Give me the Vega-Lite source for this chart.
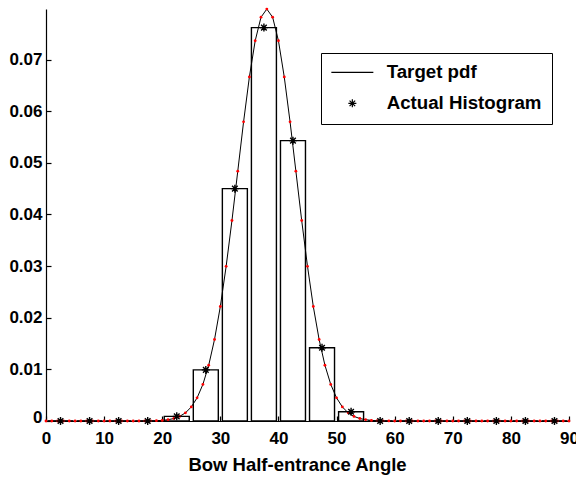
{
  "$schema": "https://vega.github.io/schema/vega-lite/v6.json",
  "width": 523,
  "height": 412,
  "autosize": {"type": "none"},
  "padding": {"left": 46, "top": 9, "right": 7, "bottom": 56},
  "background": "white",
  "config": {
    "view": {"stroke": null},
    "font": "Liberation Sans",
    "axis": {
      "grid": false,
      "domainColor": "black",
      "domainWidth": 1.2,
      "tickColor": "black",
      "tickWidth": 1.2,
      "tickSize": -5,
      "labelColor": "black",
      "labelFont": "Liberation Sans",
      "labelFontWeight": "bold",
      "labelFontSize": 17,
      "titleColor": "black",
      "titleFont": "Liberation Sans",
      "titleFontWeight": "bold",
      "titleFontSize": 18.5
    }
  },
  "datasets": {
    "hist": [
      {"angle": 2.5, "density": 0, "series": "Actual Histogram"},
      {"angle": 7.5, "density": 0, "series": "Actual Histogram"},
      {"angle": 12.5, "density": 0, "series": "Actual Histogram"},
      {"angle": 17.5, "density": 0, "series": "Actual Histogram"},
      {"angle": 22.5, "density": 0.0009, "series": "Actual Histogram"},
      {"angle": 27.5, "density": 0.0099, "series": "Actual Histogram"},
      {"angle": 32.5, "density": 0.045, "series": "Actual Histogram"},
      {"angle": 37.5, "density": 0.0762, "series": "Actual Histogram"},
      {"angle": 42.5, "density": 0.0543, "series": "Actual Histogram"},
      {"angle": 47.5, "density": 0.0142, "series": "Actual Histogram"},
      {"angle": 52.5, "density": 0.0018, "series": "Actual Histogram"},
      {"angle": 57.5, "density": 0, "series": "Actual Histogram"},
      {"angle": 62.5, "density": 0, "series": "Actual Histogram"},
      {"angle": 67.5, "density": 0, "series": "Actual Histogram"},
      {"angle": 72.5, "density": 0, "series": "Actual Histogram"},
      {"angle": 77.5, "density": 0, "series": "Actual Histogram"},
      {"angle": 82.5, "density": 0, "series": "Actual Histogram"},
      {"angle": 87.5, "density": 0, "series": "Actual Histogram"}
    ],
    "pdf": [
      {"angle": 0, "density": 0}, {"angle": 1, "density": 0}, {"angle": 2, "density": 0},
      {"angle": 3, "density": 0}, {"angle": 4, "density": 0}, {"angle": 5, "density": 0},
      {"angle": 6, "density": 0}, {"angle": 7, "density": 0}, {"angle": 8, "density": 0},
      {"angle": 9, "density": 0}, {"angle": 10, "density": 0}, {"angle": 11, "density": 0},
      {"angle": 12, "density": 0}, {"angle": 13, "density": 0}, {"angle": 14, "density": 0},
      {"angle": 15, "density": 0}, {"angle": 16, "density": 0}, {"angle": 17, "density": 0.00001},
      {"angle": 18, "density": 0.00003}, {"angle": 19, "density": 0.00006}, {"angle": 20, "density": 0.00012},
      {"angle": 21, "density": 0.00025}, {"angle": 22, "density": 0.00048}, {"angle": 23, "density": 0.00089},
      {"angle": 24, "density": 0.00158}, {"angle": 25, "density": 0.00272}, {"angle": 26, "density": 0.00448},
      {"angle": 27, "density": 0.00709}, {"angle": 28, "density": 0.0108}, {"angle": 29, "density": 0.01579},
      {"angle": 30, "density": 0.02218}, {"angle": 31, "density": 0.02995}, {"angle": 32, "density": 0.03884},
      {"angle": 33, "density": 0.04839}, {"angle": 34, "density": 0.05794}, {"angle": 35, "density": 0.06664},
      {"angle": 36, "density": 0.07365}, {"angle": 37, "density": 0.07821}, {"angle": 38, "density": 0.07979},
      {"angle": 39, "density": 0.07821}, {"angle": 40, "density": 0.07365}, {"angle": 41, "density": 0.06664},
      {"angle": 42, "density": 0.05794}, {"angle": 43, "density": 0.04839}, {"angle": 44, "density": 0.03884},
      {"angle": 45, "density": 0.02995}, {"angle": 46, "density": 0.02218}, {"angle": 47, "density": 0.01579},
      {"angle": 48, "density": 0.0108}, {"angle": 49, "density": 0.00709}, {"angle": 50, "density": 0.00448},
      {"angle": 51, "density": 0.00272}, {"angle": 52, "density": 0.00158}, {"angle": 53, "density": 0.00089},
      {"angle": 54, "density": 0.00048}, {"angle": 55, "density": 0.00025}, {"angle": 56, "density": 0.00012},
      {"angle": 57, "density": 0.00006}, {"angle": 58, "density": 0.00003}, {"angle": 59, "density": 0.00001},
      {"angle": 60, "density": 0}, {"angle": 61, "density": 0}, {"angle": 62, "density": 0},
      {"angle": 63, "density": 0}, {"angle": 64, "density": 0}, {"angle": 65, "density": 0},
      {"angle": 66, "density": 0}, {"angle": 67, "density": 0}, {"angle": 68, "density": 0},
      {"angle": 69, "density": 0}, {"angle": 70, "density": 0}, {"angle": 71, "density": 0},
      {"angle": 72, "density": 0}, {"angle": 73, "density": 0}, {"angle": 74, "density": 0},
      {"angle": 75, "density": 0}, {"angle": 76, "density": 0}, {"angle": 77, "density": 0},
      {"angle": 78, "density": 0}, {"angle": 79, "density": 0}, {"angle": 80, "density": 0},
      {"angle": 81, "density": 0}, {"angle": 82, "density": 0}, {"angle": 83, "density": 0},
      {"angle": 84, "density": 0}, {"angle": 85, "density": 0}, {"angle": 86, "density": 0},
      {"angle": 87, "density": 0}, {"angle": 88, "density": 0}, {"angle": 89, "density": 0},
      {"angle": 90, "density": 0}
    ]
  },
  "encoding": {
    "x": {
      "field": "angle",
      "type": "quantitative",
      "scale": {"domain": [0, 90], "nice": false, "zero": false, "padding": 0},
      "axis": {
        "title": "Bow Half-entrance Angle",
        "values": [0, 10, 20, 30, 40, 50, 60, 70, 80, 90],
        "format": "d",
        "labelFlush": false,
        "labelPadding": 14,
        "titleBaseline": "alphabetic",
        "titleX": 251,
        "titleY": 49
      }
    },
    "y": {
      "field": "density",
      "type": "quantitative",
      "scale": {"domain": [0, 0.0798], "nice": false, "padding": 0},
      "axis": {
        "title": null,
        "values": [0, 0.01, 0.02, 0.03, 0.04, 0.05, 0.06, 0.07],
        "format": ".2~f",
        "labelFlush": true,
        "labelFlushOffset": 5,
        "labelPadding": 9
      }
    }
  },
  "layer": [
    {
      "data": {"name": "hist"},
      "mark": {"type": "bar", "width": 25, "filled": false, "stroke": "black", "strokeWidth": 1.4}
    },
    {
      "data": {"name": "pdf"},
      "mark": {"type": "line", "color": "black", "strokeWidth": 1}
    },
    {
      "data": {"name": "pdf"},
      "mark": {"type": "point", "shape": "circle", "filled": true, "color": "#ff0000", "size": 8, "opacity": 1}
    },
    {
      "data": {"name": "hist"},
      "mark": {"type": "point", "filled": false, "color": "black", "strokeWidth": 1.4, "size": 64, "opacity": 1},
      "encoding": {
        "shape": {
          "field": "series",
          "type": "nominal",
          "scale": {
            "domain": ["Target pdf", "Actual Histogram"],
            "range": ["M-5.25,0H5.25", "M-1,0H1M0,-1V1M-0.7,-0.7L0.7,0.7M-0.7,0.7L0.7,-0.7"]
          },
          "legend": {
            "title": null,
            "orient": "none",
            "legendX": 275,
            "legendY": 44,
            "padding": 10,
            "strokeColor": "black",
            "fillColor": "white",
            "labelFont": "Liberation Sans",
            "labelFontWeight": "bold",
            "labelFontSize": 18.7,
            "labelColor": "black",
            "labelOffset": 25,
            "symbolOffset": 12,
            "rowPadding": 11,
            "symbolSize": 64,
            "symbolStrokeColor": "black",
            "symbolFillColor": "transparent",
            "symbolStrokeWidth": 1.2,
            "symbolOpacity": 1,
            "encode": {
              "legend": {"update": {"strokeWidth": {"value": 1.5}}},
              "labels": {"update": {"dy": {"value": 3}}}
            }
          }
        }
      }
    }
  ]
}
